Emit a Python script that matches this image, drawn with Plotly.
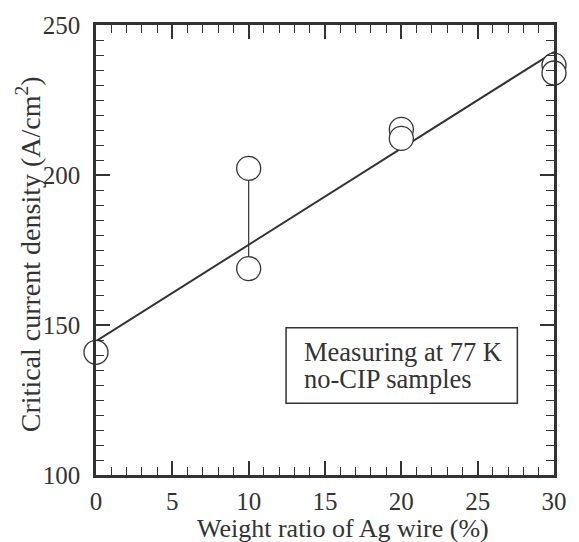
import plotly.graph_objects as go

# Measured points (weight ratio %, Jc A/cm^2)
x_pts = [0, 10, 10, 20, 20, 30, 30]
y_pts = [140.9, 202.2, 168.8, 215.2, 212.2, 236.6, 234.0]

# Range bar at 10 %
range_x = [10, 10]
range_y = [168.8, 202.2]

# Linear fit line endpoints
fit_x = [0, 30]
fit_y = [144.6, 241.0]

x_ticks = [0, 5, 10, 15, 20, 25, 30]
y_ticks = [100, 150, 200, 250]

x_title = "Weight ratio of Ag wire (%)"
y_title = "Critical current density (A/cm<sup>2</sup>)"
box_lines = ["Measuring at 77 K", "no-CIP samples"]

INK = "#333333"
FONT = "Liberation Serif, Times New Roman, serif"

fig = go.Figure()
fig.add_trace(go.Scatter(x=fit_x, y=fit_y, mode="lines",
                         line=dict(color=INK, width=2), showlegend=False,
                         cliponaxis=False, hoverinfo="skip"))
fig.add_trace(go.Scatter(x=range_x, y=range_y, mode="lines",
                         line=dict(color=INK, width=1.2), showlegend=False,
                         cliponaxis=False, hoverinfo="skip"))
fig.add_trace(go.Scatter(x=x_pts, y=y_pts, mode="markers",
                         marker=dict(symbol="circle", size=24, color="white",
                                     line=dict(color=INK, width=1.3)),
                         showlegend=False, cliponaxis=False))

axis_common = dict(
    showline=True, linecolor=INK, linewidth=2.5, mirror="ticks",
    ticks="inside", ticklen=14, tickwidth=1.5, tickcolor=INK,
    showgrid=False, zeroline=False,
    tickfont=dict(family=FONT, size=25, color=INK),
)

fig.update_xaxes(range=[0, 30], tickvals=x_ticks, ticklabelstandoff=2,
                 minor=dict(dtick=1, ticks="inside", ticklen=8, tickwidth=1.3, tickcolor=INK, showgrid=False),
                 **axis_common)
fig.update_yaxes(range=[100, 250], tickvals=y_ticks, ticklabelstandoff=8,
                 minor=dict(dtick=5, ticks="inside", ticklen=8, tickwidth=1.3, tickcolor=INK, showgrid=False),
                 **axis_common)

# Axis titles
fig.add_annotation(xref="x", yref="paper", x=16.2, y=-0.119, xanchor="center", yanchor="middle",
                   text=x_title, showarrow=False, font=dict(family=FONT, size=26, color=INK))
fig.add_annotation(xref="paper", yref="paper", x=-0.147, y=0.49, xanchor="center", yanchor="middle",
                   text=y_title, textangle=-90, showarrow=False, font=dict(family=FONT, size=28, color=INK))

# Box around the note
fig.add_shape(type="rect", xref="x", yref="y", x0=12.45, x1=27.6, y0=123.9, y1=149.1,
              line=dict(color=INK, width=1.5), fillcolor="white", layer="above")
fig.add_annotation(xref="x", yref="y", x=13.5, y=141.0, xanchor="left", yanchor="middle",
                   text=box_lines[0], showarrow=False,
                   font=dict(family=FONT, size=26.5, color=INK))
fig.add_annotation(xref="x", yref="y", x=13.5, y=132.0, xanchor="left", yanchor="middle",
                   text=box_lines[1], showarrow=False,
                   font=dict(family=FONT, size=26.5, color=INK))

fig.update_layout(width=579, height=542, margin=dict(l=96, r=20, t=23, b=67),
                  paper_bgcolor="white", plot_bgcolor="white")

fig.write_html("out.html", config={"displayModeBar": False},
               post_script="document.body.style.margin='0';document.body.style.overflow='hidden';")
